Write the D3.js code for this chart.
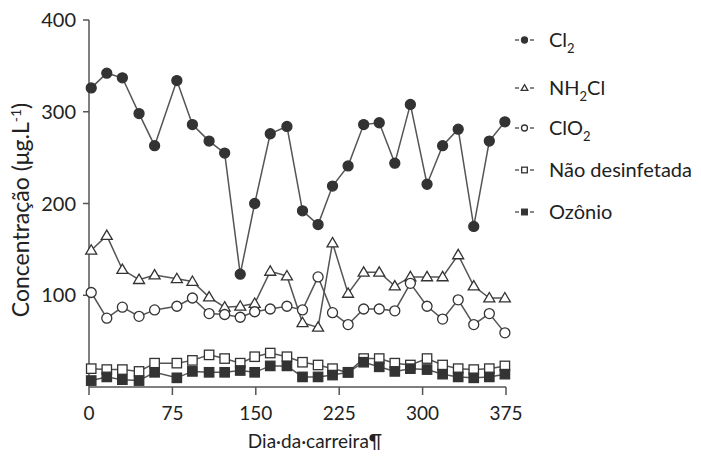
<!DOCTYPE html>
<html>
<head>
<meta charset="utf-8">
<script src="https://cdn.jsdelivr.net/npm/d3@7"></script>
<style>
  body { margin: 0; background: #fff; }
  text { font-family: Lato, "Open Sans", sans-serif; fill: #222; }
</style>
</head>
<body>
<div id="chart"></div>
<script>
// sampling days
var days = [2, 16, 30, 45, 59, 79, 93, 108, 122, 136, 149, 163, 178, 192, 206, 219, 233, 247, 261, 275, 289, 304, 318, 332, 346, 360, 374];

var cl2 = [326, 342, 337, 298, 263, 334, 286, 268, 255, 123, 200, 276, 284, 192, 177, 219, 241, 286, 288, 244, 308, 221, 263, 281, 175, 268, 289];
var nh2cl = [149, 165, 128, 117, 122, 118, 115, 98, 87, 88, 91, 126, 121, 70, 65, 157, 102, 125, 125, 110, 120, 120, 120, 144, 110, 97, 97];
var clo2 = [103, 75, 87, 77, 84, 88, 97, 80, 79, 76, 82, 85, 88, 84, 120, 81, 68, 85, 85, 83, 113, 88, 74, 95, 68, 80, 59];
var naoDesinf = [20, 19, 19, 17, 26, 26, 29, 35, 31, 26, 33, 37, 33, 27, 24, 20, 16, 31, 31, 26, 24, 31, 24, 20, 19, 20, 23];
var ozonio = [7, 11, 8, 7, 16, 10, 17, 16, 16, 18, 16, 23, 23, 11, 11, 13, 16, 27, 22, 17, 20, 19, 14, 11, 10, 11, 14];

var xTicks = [0, 75, 150, 225, 300, 375];
var yTicks = [100, 200, 300, 400];

var series = [
  {name: "Cl", sub: "2", after: "", values: cl2, shape: "circle", fill: "#333"},
  {name: "NH", sub: "2", after: "Cl", values: nh2cl, shape: "triangle", fill: "#fff"},
  {name: "ClO", sub: "2", after: "", values: clo2, shape: "circle", fill: "#fff"},
  {name: "Não desinfetada", sub: "", after: "", values: naoDesinf, shape: "square", fill: "#fff"},
  {name: "Ozônio", sub: "", after: "", values: ozonio, shape: "square", fill: "#333"}
];

var W = 701, H = 457;
var svg = d3.select("#chart").append("svg").attr("width", W).attr("height", H);

var x = d3.scaleLinear().domain([0, 375]).range([89, 506]);
var y = d3.scaleLinear().domain([0, 400]).range([387, 20]);

// axes
svg.append("line").attr("x1", x(0)).attr("x2", x(0)).attr("y1", y(400)).attr("y2", y(0))
  .attr("stroke", "#555").attr("stroke-width", 1.5);
svg.append("line").attr("x1", x(0)).attr("x2", x(375)).attr("y1", y(0)).attr("y2", y(0))
  .attr("stroke", "#555").attr("stroke-width", 1.5);

yTicks.forEach(function(t) {
  svg.append("line").attr("x1", x(0) - 6).attr("x2", x(0)).attr("y1", y(t)).attr("y2", y(t))
    .attr("stroke", "#555").attr("stroke-width", 1.5);
  svg.append("text").attr("x", 76).attr("y", y(t) + 7).attr("text-anchor", "end")
    .style("font-size", "20px").text(t);
});
xTicks.forEach(function(t) {
  svg.append("line").attr("x1", x(t)).attr("x2", x(t)).attr("y1", y(0)).attr("y2", y(0) + 8)
    .attr("stroke", "#555").attr("stroke-width", 1.5);
  svg.append("text").attr("x", x(t)).attr("y", 420).attr("text-anchor", "middle")
    .style("font-size", "19px").text(t);
});

// axis titles
var yt = svg.append("text").attr("transform", "translate(29,210) rotate(-90)")
  .attr("text-anchor", "middle").style("font-size", "23px");
yt.append("tspan").text("Concentração (μg.L");
yt.append("tspan").attr("dy", -8).style("font-size", "14px").text("-1");
yt.append("tspan").attr("dy", 8).text(")");

svg.append("text").attr("x", 315).attr("y", 448).attr("text-anchor", "middle")
  .style("font-size", "19px").text("Dia·da·carreira¶");

var line = d3.line().x(function(d, i) { return x(days[i]); }).y(function(d) { return y(d); });

function marker(g, shape, fill, cx, cy, s) {
  if (shape === "circle") {
    g.append("circle").attr("cx", cx).attr("cy", cy).attr("r", s * 0.5)
      .attr("fill", fill).attr("stroke", "#333").attr("stroke-width", 1.3);
  } else if (shape === "triangle") {
    var h = s * 0.55;
    g.append("path").attr("d", "M" + cx + "," + (cy - h) + "L" + (cx + h) + "," + (cy + h * 0.7) + "L" + (cx - h) + "," + (cy + h * 0.7) + "Z")
      .attr("fill", fill).attr("stroke", "#333").attr("stroke-width", 1.3);
  } else {
    var a = s * 0.47;
    g.append("rect").attr("x", cx - a).attr("y", cy - a).attr("width", 2 * a).attr("height", 2 * a)
      .attr("fill", fill).attr("stroke", "#333").attr("stroke-width", 1.3);
  }
}

// lines first, then markers on top
series.slice().reverse().forEach(function(s) {
  svg.append("path").datum(s.values).attr("d", line)
    .attr("fill", "none").attr("stroke", "#555").attr("stroke-width", 1.5);
});
series.forEach(function(s) {
  var g = svg.append("g");
  s.values.forEach(function(v, i) {
    marker(g, s.shape, s.fill, x(days[i]), y(v), 10);
  });
});

// legend
var legY = [40, 88, 128, 170, 212];
series.forEach(function(s, i) {
  var ly = legY[i];
  var g = svg.append("g");
  g.append("line").attr("x1", 515).attr("x2", 519).attr("y1", ly).attr("y2", ly).attr("stroke", "#444").attr("stroke-width", 1.3);
  g.append("line").attr("x1", 530).attr("x2", 534).attr("y1", ly).attr("y2", ly).attr("stroke", "#444").attr("stroke-width", 1.3);
  marker(g, s.shape, s.fill, 524.5, ly, 6);
  var t = g.append("text").attr("x", 549).attr("y", ly + 7).style("font-size", "20px");
  t.append("tspan").text(s.name);
  if (s.sub) {
    t.append("tspan").attr("dy", 6).style("font-size", "13px").text(s.sub);
    if (s.after) t.append("tspan").attr("dy", -6).text(s.after);
  }
});
</script>
</body>
</html>
